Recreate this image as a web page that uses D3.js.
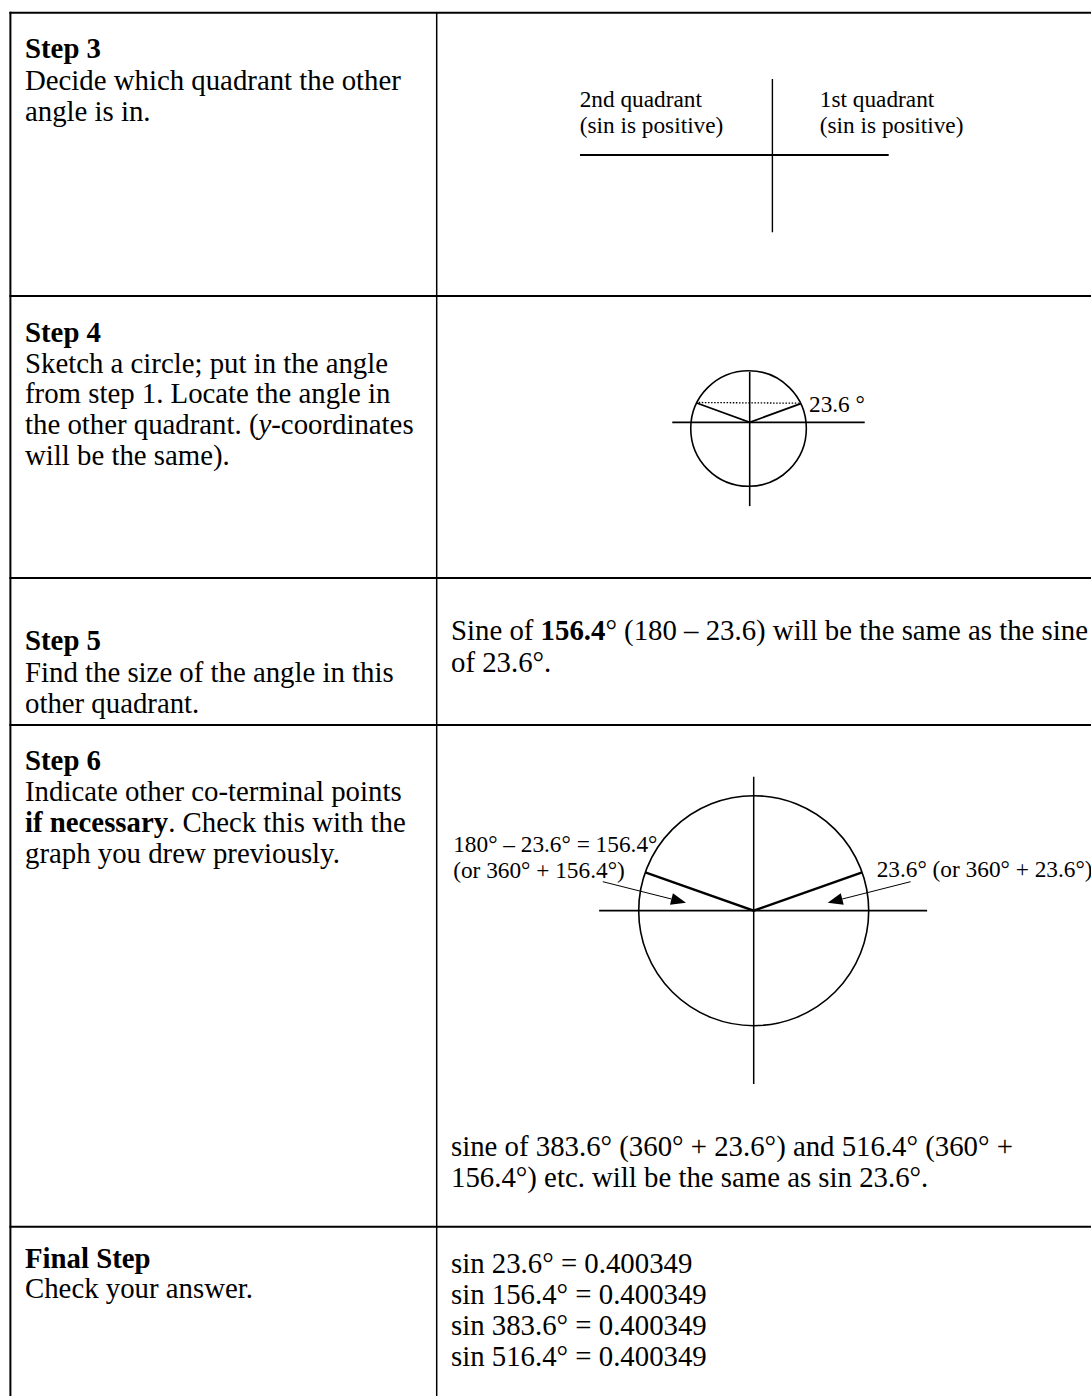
<!DOCTYPE html>
<html>
<head>
<meta charset="utf-8">
<script src="https://cdn.jsdelivr.net/npm/d3@7"></script>
<style>
  html, body { margin: 0; padding: 0; background: #fff; }
  svg { display: block; }
  text { font-family: "Liberation Serif", "Times New Roman", serif; fill: #000; white-space: pre; }
</style>
</head>
<body>
<div id="chart"></div>
<script>
// ---------------- DATA ----------------
const stepTitles = ["Step 3", "Step 4", "Step 5", "Step 6", "Final Step"];
// each line is a list of [text, style] segments; style: "" normal, "b" bold, "i" italic
const stepInstructions = [
  [[["Decide which quadrant the other", ""]], [["angle is in.", ""]]],
  [[["Sketch a circle; put in the angle", ""]],
   [["from step 1. Locate the angle in", ""]],
   [["the other quadrant. (", ""], ["y", "i"], ["-coordinates", ""]],
   [["will be the same).", ""]]],
  [[["Find the size of the angle in this", ""]], [["other quadrant.", ""]]],
  [[["Indicate other co-terminal points", ""]],
   [["if necessary", "b"], [". Check this with the", ""]],
   [["graph you drew previously.", ""]]],
  [[["Check your answer.", ""]]]
];
const quadrantNames = ["2nd quadrant", "1st quadrant"];
const quadrantNote = "(sin is positive)";
const referenceAngle = 23.6;     // angle from step 1 (degrees)
const sketchAngle = 19.5;        // angle as it is sketched in the drawings
const otherAngle = 156.4;        // 180 - 23.6
const coterminalAngles = [383.6, 516.4];
const checkAngles = [23.6, 156.4, 383.6, 516.4];
const sineValue = "0.400349";
const step5Lines = [
  [["Sine of ", ""], ["156.4", "b"], ["° (180 – 23.6) will be the same as the sine", ""]],
  [["of 23.6°.", ""]]
];
const step6Lines = [
  [["sine of 383.6° (360° + 23.6°) and 516.4° (360° +", ""]],
  [["156.4°) etc. will be the same as sin 23.6°.", ""]]
];
const step6LeftLabel = ["180° – 23.6° = 156.4°", "(or 360° + 156.4°)"];
const step6RightLabel = ["23.6° (or 360° + 23.6°)"];
const step4Label = "23.6 °";

// ---------------- LAYOUT ----------------
const W = 1091, H = 1396;
const FS = 28.8, FSD = 23.3;
const tableLeft = 10.4, colDiv = 436.7;
const rowTops = [12.7, 296, 578, 725, 1226.7];
const leftX = 25, rightX = 451;
const leftFirstBaseline = [58.3, 341.7, 650, 770, 1268.3];
const lineGaps = [31.2, 30.8, 31.6, 31.1, 30];

const svg = d3.select("#chart").append("svg")
  .attr("width", W).attr("height", H).attr("viewBox", `0 0 ${W} ${H}`);
svg.append("rect").attr("width", W).attr("height", H).attr("fill", "#fff");

// table grid
const grid = svg.append("g").attr("stroke", "#000").attr("fill", "none");
grid.selectAll("line.row").data(rowTops).join("line")
  .attr("class", "row")
  .attr("x1", tableLeft - 1).attr("x2", W + 5)
  .attr("y1", d => d).attr("y2", d => d)
  .attr("stroke-width", 2);
grid.append("line").attr("x1", tableLeft).attr("x2", tableLeft)
  .attr("y1", rowTops[0] - 1).attr("y2", H + 5).attr("stroke-width", 2);
grid.append("line").attr("x1", colDiv).attr("x2", colDiv)
  .attr("y1", rowTops[0]).attr("y2", H + 5).attr("stroke-width", 1.5);

function richLine(g, segs, x, y, size) {
  const t = g.append("text").attr("x", x).attr("y", y).attr("font-size", size);
  segs.forEach(([s, st]) => {
    const ts = t.append("tspan").text(s);
    if (st === "b") ts.attr("font-weight", "bold");
    if (st === "i") ts.attr("font-style", "italic");
  });
  return t;
}

// left column
const left = svg.append("g");
stepTitles.forEach((title, i) => {
  const y0 = leftFirstBaseline[i];
  left.append("text").attr("x", leftX).attr("y", y0).attr("font-size", FS)
    .attr("font-weight", "bold").text(title);
  stepInstructions[i].forEach((segs, j) => {
    richLine(left, segs, leftX, y0 + (j + 1) * lineGaps[i], FS);
  });
});

// ---------- Step 3: quadrant sketch ----------
const q = svg.append("g");
const qx = d3.scaleLinear().domain([-1, 1]).range([580, 888.7]);
const qy = d3.scaleLinear().domain([-1, 1]).range([232.3, 79]);
q.append("line").attr("x1", qx(-1)).attr("x2", qx(1))
  .attr("y1", 155).attr("y2", 155).attr("stroke", "#000").attr("stroke-width", 2);
q.append("line").attr("x1", 772.4).attr("x2", 772.4)
  .attr("y1", qy(-1)).attr("y2", qy(1)).attr("stroke", "#000").attr("stroke-width", 1.4);
const qLabelX = [579.7, 819.8];
quadrantNames.forEach((n, i) => {
  q.append("text").attr("x", qLabelX[i]).attr("y", 106.7).attr("font-size", FSD).text(n);
  q.append("text").attr("x", qLabelX[i]).attr("y", 133.3).attr("font-size", FSD).text(quadrantNote);
});

// helper: ray from origin at angle hitting a circle
function rayCircle(ox, oy, cx, cy, r, angDeg, dirX) {
  const a = angDeg * Math.PI / 180;
  const dx = dirX * Math.cos(a), dy = -Math.sin(a);
  const fx = ox - cx, fy = oy - cy;
  const b = fx * dx + fy * dy;
  const c = fx * fx + fy * fy - r * r;
  const t = -b + Math.sqrt(b * b - c);
  return [ox + t * dx, oy + t * dy];
}

// ---------- Step 4: small circle ----------
(function () {
  const g = svg.append("g").attr("stroke", "#000").attr("fill", "none");
  const ox = 749.7, oy = 422.3;          // axes crossing
  const r = 57.8;
  const sx = d3.scaleLinear().domain([-1, 1]).range([ox - r, ox + r]);
  const sy = d3.scaleLinear().domain([-1, 1]).range([oy + r, oy - r]);
  const ccx = sx(-0.02), ccy = sy(-0.107);
  g.append("circle").attr("cx", ccx).attr("cy", ccy).attr("r", r).attr("stroke-width", 1.6);
  g.append("line").attr("x1", sx(-1.34)).attr("x2", sx(1.99)).attr("y1", oy).attr("y2", oy).attr("stroke-width", 1.8);
  g.append("line").attr("x1", ox).attr("x2", ox).attr("y1", sy(0.87)).attr("y2", sy(-1.45)).attr("stroke-width", 1.6);
  const pR = rayCircle(ox, oy, ccx, ccy, r, sketchAngle + 0.5, 1);
  const pL = rayCircle(ox, oy, ccx, ccy, r, sketchAngle + 0.5, -1);
  g.append("path").attr("d", d3.line()([pL, [ox, oy], pR])).attr("stroke-width", 1.8);
  g.append("line").attr("x1", pL[0] + 2).attr("x2", pR[0] - 2)
    .attr("y1", pL[1] - 0.5).attr("y2", pR[1] - 0.5)
    .attr("stroke-width", 1.3).attr("stroke-dasharray", "1.5,1.6");
  svg.append("text").attr("x", 809).attr("y", 412.3).attr("font-size", FSD).text(step4Label);
})();

// ---------- Step 5 text ----------
step5Lines.forEach((segs, j) => richLine(svg, segs, rightX, 640 + j * 31.7, FS));

// ---------- Step 6: large circle ----------
(function () {
  const g = svg.append("g").attr("stroke", "#000").attr("fill", "none");
  const ox = 753.7, oy = 910.7, r = 115;
  const sx = d3.scaleLinear().domain([-1, 1]).range([ox - r, ox + r]);
  const sy = d3.scaleLinear().domain([-1, 1]).range([oy + r, oy - r]);
  g.append("circle").attr("cx", sx(0)).attr("cy", sy(0)).attr("r", r).attr("stroke-width", 1.6);
  g.append("line").attr("x1", sx(-1.344)).attr("x2", sx(1.508)).attr("y1", oy).attr("y2", oy).attr("stroke-width", 1.7);
  g.append("line").attr("x1", ox).attr("x2", ox).attr("y1", sy(1.164)).attr("y2", sy(-1.508)).attr("stroke-width", 1.5);
  const a = sketchAngle * Math.PI / 180;
  const pR = [sx(Math.cos(a)), sy(Math.sin(a))];
  const pL = [sx(-Math.cos(a)), sy(Math.sin(a))];
  g.append("path").attr("d", d3.line()([pL, [ox, oy], pR])).attr("stroke-width", 2.3);

  // arrows
  const arrows = [
    { from: [602.8, 881.7], to: [686, 902.7] },
    { from: [910.6, 881.7], to: [827.7, 902.7] }
  ];
  arrows.forEach(({ from, to }) => {
    const dx = to[0] - from[0], dy = to[1] - from[1];
    const L = Math.hypot(dx, dy), ux = dx / L, uy = dy / L;
    const hl = 15, hw = 6;
    const base = [to[0] - ux * hl, to[1] - uy * hl];
    g.append("line").attr("x1", from[0]).attr("y1", from[1])
      .attr("x2", base[0]).attr("y2", base[1]).attr("stroke-width", 1);
    svg.append("path")
      .attr("d", d3.line()([to, [base[0] - uy * hw, base[1] + ux * hw], [base[0] + uy * hw, base[1] - ux * hw]]) + "Z")
      .attr("fill", "#000").attr("stroke", "none");
  });

  step6LeftLabel.forEach((t, j) => {
    svg.append("text").attr("x", 453.2).attr("y", 852 + j * 26).attr("font-size", FSD).text(t);
  });
  step6RightLabel.forEach((t, j) => {
    svg.append("text").attr("x", 876.7).attr("y", 877 + j * 26).attr("font-size", FSD).text(t);
  });
})();

step6Lines.forEach((segs, j) => richLine(svg, segs, rightX, 1155.5 + j * 31, FS));

// ---------- Final step ----------
checkAngles.forEach((a, j) => {
  svg.append("text").attr("x", rightX).attr("y", 1272.7 + j * 31.1).attr("font-size", FS)
    .text(`sin ${a}° = ${sineValue}`);
});
</script>
</body>
</html>
